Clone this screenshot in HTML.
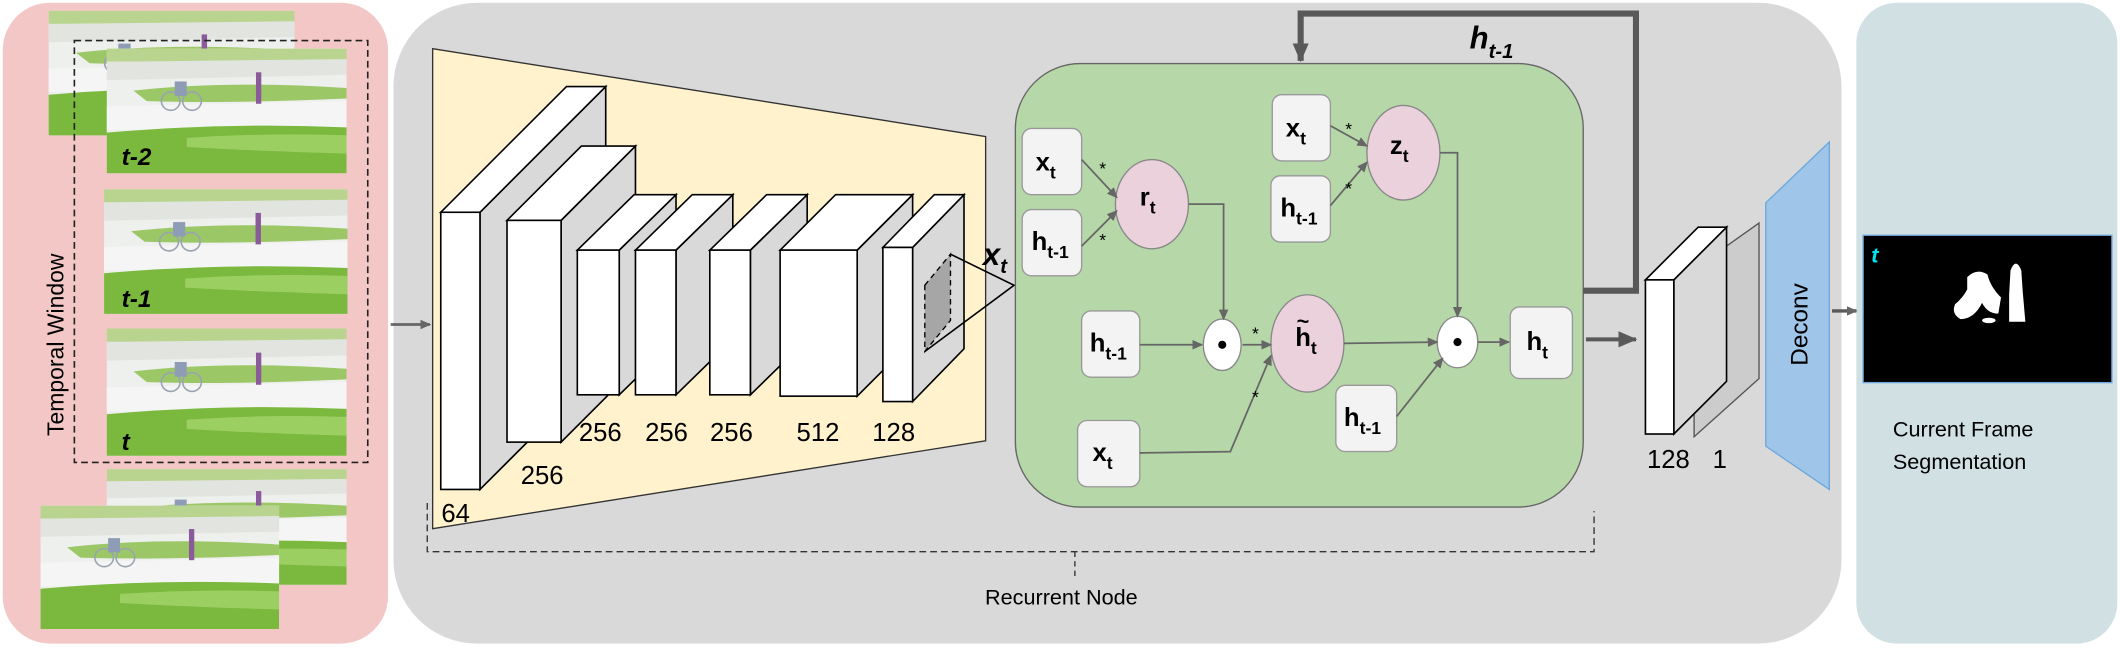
<!DOCTYPE html>
<html><head><meta charset="utf-8"><style>
html,body{margin:0;padding:0;background:#fff;}
svg{display:block;}
text{font-family:"Liberation Sans",sans-serif;}
</style></head><body>
<svg width="2120" height="650" viewBox="0 0 1568 480.75" preserveAspectRatio="none" xmlns="http://www.w3.org/2000/svg">
<defs>
<marker id="a" markerWidth="8" markerHeight="8" refX="7" refY="4" orient="auto" markerUnits="userSpaceOnUse"><path d="M0,0.5 L8,4 L0,7.5z" fill="#666"/></marker>
<marker id="b" markerWidth="14" markerHeight="14" refX="13" refY="7" orient="auto" markerUnits="userSpaceOnUse"><path d="M0,1 L14,7 L0,13z" fill="#595959"/></marker>
<g id="fr">
<rect x="0" y="0" width="180" height="95" fill="#eef0ee"/>
<rect x="0" y="0" width="180" height="10" fill="#b9d48f"/>
<path d="M0,10 L180,8 L180,20 L0,24z" fill="#e2e4df"/>
<path d="M20,32 Q90,24 180,30 L180,38 Q90,42 30,40z" fill="#9cc767"/>
<path d="M0,44 L180,40 L180,60 L0,62z" fill="#f4f5f4"/>
<path d="M0,64 Q90,56 180,60 L180,95 L0,95z" fill="#7ab83e"/>
<path d="M60,68 Q120,64 180,66 L180,80 Q110,78 60,75z" fill="#9ccf62"/>
<rect x="112" y="18" width="4" height="24" fill="#8a5a9a"/>
<circle cx="48" cy="40" r="7" fill="none" stroke="#9aa3b0" stroke-width="1.2"/>
<circle cx="64" cy="40" r="7" fill="none" stroke="#9aa3b0" stroke-width="1.2"/>
<rect x="51" y="25" width="9" height="11" fill="#8f9cb6"/>
</g>
</defs>

<rect x="2" y="2" width="285" height="474" rx="35" fill="#f4c7c7"/>
<rect x="291" y="2" width="1071" height="474" rx="62" fill="#d9d9d9"/>
<rect x="1373" y="2" width="193" height="474" rx="30" fill="#d0e0e3"/>

<use href="#fr" transform="translate(36,8) scale(1.01,0.97)"/>
<use href="#fr" transform="translate(79,36) scale(0.985,0.97)"/>
<text x="90" y="122" font-size="18" font-weight="bold" font-style="italic">t-2</text>
<use href="#fr" transform="translate(77,140) scale(1.0,0.97)"/>
<text x="90" y="227" font-size="18" font-weight="bold" font-style="italic">t-1</text>
<use href="#fr" transform="translate(79,243) scale(0.985,0.99)"/>
<text x="90" y="333" font-size="18" font-weight="bold" font-style="italic">t</text>
<use href="#fr" transform="translate(79,347) scale(0.985,0.9)"/>
<use href="#fr" transform="translate(30,374) scale(0.98,0.96)"/>
<rect x="55" y="30" width="217" height="312" fill="none" stroke="#222" stroke-width="1.2" stroke-dasharray="5,3"/>
<text transform="translate(47,255) rotate(-90)" font-size="17" text-anchor="middle">Temporal Window</text>

<line x1="289" y1="240" x2="318" y2="240" stroke="#666" stroke-width="2" marker-end="url(#a)"/>

<polygon points="320,36 729,101 729,326 320,391" fill="#fff2cc" stroke="#333" stroke-width="1"/>
<g stroke="#000" stroke-width="1.2">
<polygon points="355,157 448,64 448,269 355,362" fill="#d9d9d9"/>
<polygon points="326,157 355,157 448,64 419,64" fill="#fff"/>
<rect x="326" y="157" width="29" height="205" fill="#fff"/>
<polygon points="415,163 470,108 470,272 415,327" fill="#d9d9d9"/>
<polygon points="375,163 415,163 470,108 430,108" fill="#fff"/>
<rect x="375" y="163" width="40" height="164" fill="#fff"/>
<polygon points="458,185 500,144 500,251 458,292" fill="#d9d9d9"/>
<polygon points="427,185 458,185 500,144 469,144" fill="#fff"/>
<rect x="427" y="185" width="31" height="107" fill="#fff"/>
<polygon points="500,185 542,144 542,251 500,292" fill="#d9d9d9"/>
<polygon points="470,185 500,185 542,144 512,144" fill="#fff"/>
<rect x="470" y="185" width="30" height="107" fill="#fff"/>
<polygon points="555,185 597,144 597,251 555,292" fill="#d9d9d9"/>
<polygon points="525,185 555,185 597,144 567,144" fill="#fff"/>
<rect x="525" y="185" width="30" height="107" fill="#fff"/>
<polygon points="634,185 675,144 675,252 634,293" fill="#d9d9d9"/>
<polygon points="577,185 634,185 675,144 618,144" fill="#fff"/>
<rect x="577" y="185" width="57" height="108" fill="#fff"/>
<polygon points="675,183 713,144 713,258 675,297" fill="#d9d9d9"/>
<polygon points="653,183 675,183 713,144 691,144" fill="#fff"/>
<rect x="653" y="183" width="22" height="114" fill="#fff"/>
</g>
<polygon points="684,211 703,188 703,237 684,260" fill="#a6a6a6" stroke="#000" stroke-dasharray="4,3"/>
<polyline points="703,188 750,211 684,260" fill="none" stroke="#000" stroke-width="1.2"/>
<g font-size="19" text-anchor="middle">
<text x="444" y="326">256</text><text x="493" y="326">256</text><text x="541" y="326">256</text>
<text x="605" y="326">512</text><text x="661" y="326">128</text>
<text x="401" y="358">256</text><text x="337" y="386">64</text>
</g>
<text x="727" y="196" font-size="23" font-weight="bold" font-style="italic">x<tspan font-size="15" dy="6">t</tspan></text>

<polyline points="316,372 316,408 1179,408 1179,378" fill="none" stroke="#333" stroke-dasharray="5,3"/>
<line x1="795" y1="408" x2="795" y2="426" stroke="#333" stroke-dasharray="4,3"/>
<text x="785" y="447" font-size="16" text-anchor="middle">Recurrent Node</text>

<rect x="751" y="47" width="420" height="328" rx="48" fill="#b6d7a8" stroke="#666" stroke-width="1"/>
<g fill="#f3f3f3" stroke="#999" stroke-width="1">
<rect x="756" y="95" width="44" height="49" rx="7"/>
<rect x="756" y="155" width="44" height="49" rx="7"/>
<rect x="941" y="70" width="43" height="49" rx="7"/>
<rect x="940" y="130" width="44" height="49" rx="7"/>
<rect x="800" y="230" width="43" height="49" rx="7"/>
<rect x="1117" y="227" width="46" height="53" rx="7"/>
<rect x="988" y="285" width="45" height="49" rx="7"/>
<rect x="797" y="311" width="46" height="49" rx="7"/>
</g>
<g fill="#ead1dc" stroke="#888">
<ellipse cx="852" cy="151" rx="27" ry="33"/>
<ellipse cx="1038" cy="113" rx="27" ry="35"/>
<ellipse cx="967" cy="254" rx="27" ry="36"/>
</g>
<g fill="#fff" stroke="#888">
<ellipse cx="904" cy="255" rx="14" ry="19"/>
<ellipse cx="1078" cy="253" rx="15" ry="19"/>
</g>
<circle cx="904" cy="255" r="3" fill="#000"/><circle cx="1078" cy="253" r="3" fill="#000"/>
<g font-size="19" font-weight="bold">
<text x="766" y="126">x<tspan font-size="13" dy="6">t</tspan></text>
<text x="763" y="185">h<tspan font-size="13" dy="6">t-1</tspan></text>
<text x="951" y="101">x<tspan font-size="13" dy="6">t</tspan></text>
<text x="947" y="160">h<tspan font-size="13" dy="6">t-1</tspan></text>
<text x="806" y="260">h<tspan font-size="13" dy="6">t-1</tspan></text>
<text x="1129" y="259">h<tspan font-size="13" dy="6">t</tspan></text>
<text x="994" y="315">h<tspan font-size="13" dy="6">t-1</tspan></text>
<text x="808" y="341">x<tspan font-size="13" dy="6">t</tspan></text>
<text x="843" y="152">r<tspan font-size="13" dy="6">t</tspan></text>
<text x="1028" y="114">z<tspan font-size="13" dy="6">t</tspan></text>
<text x="958" y="256">h<tspan font-size="13" dy="6">t</tspan></text>
<text x="959" y="243" font-size="16">~</text>
</g>
<g stroke="#666" stroke-width="1.3" fill="none" marker-end="url(#a)">
<line x1="800" y1="118" x2="826" y2="146"/>
<line x1="800" y1="182" x2="826" y2="156"/>
<polyline points="879,151 905,151 905,236"/>
<line x1="843" y1="255" x2="889" y2="255"/>
<line x1="919" y1="255" x2="940" y2="255"/>
<polyline points="843,335 910,334 940,263"/>
<line x1="994" y1="254" x2="1063" y2="253"/>
<polyline points="1033,308 1067,265"/>
<polyline points="1065,113 1078,113 1078,234"/>
<line x1="984" y1="93" x2="1011" y2="108"/>
<line x1="984" y1="152" x2="1011" y2="120"/>
<line x1="1093" y1="253" x2="1116" y2="253"/>
</g>
<g font-size="13">
<text x="813" y="129">*</text><text x="813" y="182">*</text>
<text x="926" y="251">*</text><text x="926" y="298">*</text>
<text x="995" y="100">*</text><text x="995" y="144">*</text>
</g>

<polyline points="1171,215 1210,215 1210,10 962,10 962,45" fill="none" stroke="#595959" stroke-width="4.5" marker-end="url(#b)"/>
<text x="1087" y="36" font-size="23" font-weight="bold" font-style="italic">h<tspan font-size="15" dy="7">t-1</tspan></text>
<line x1="1173" y1="251" x2="1210" y2="251" stroke="#595959" stroke-width="3" marker-end="url(#b)"/>

<polygon points="1253,199 1301,165 1301,280 1253,323" fill="#ccc" stroke="#555" stroke-width="1"/>
<g stroke="#000" stroke-width="1.2">
<polygon points="1238,207 1277,168 1277,282 1238,321" fill="#d9d9d9"/>
<polygon points="1217,207 1238,207 1277,168 1256,168" fill="#fff"/>
<rect x="1217" y="207" width="21" height="114" fill="#fff"/>
</g>
<text x="1234" y="346" font-size="19" text-anchor="middle">128</text>
<text x="1272" y="346" font-size="19" text-anchor="middle">1</text>
<polygon points="1306,150 1353,105 1353,362 1306,330" fill="#9fc5e8" stroke="#6fa8dc"/>
<text transform="translate(1337,240) rotate(-90)" font-size="18" text-anchor="middle">Deconv</text>
<line x1="1355" y1="230" x2="1373" y2="230" stroke="#595959" stroke-width="2.5" marker-end="url(#a)"/>

<rect x="1378" y="174" width="184" height="109" fill="#000" stroke="#6fa8dc"/>
<text x="1384" y="194" font-size="16" font-weight="bold" font-style="italic" fill="#00e5ee">t</text>
<g fill="#fff">
<path d="M1455,205 Q1462,198 1470,203 Q1472,212 1480,220 L1478,232 Q1470,232 1466,224 Q1460,236 1450,236 Q1443,232 1446,225 Q1452,220 1455,214z"/>
<path d="M1487,200 Q1491,190 1495,200 L1496,215 L1498,238 L1486,238 L1486,218z"/>
<ellipse cx="1471" cy="237" rx="5" ry="2"/>
</g>
<text x="1400" y="323" font-size="16">Current Frame</text>
<text x="1400" y="347" font-size="16">Segmentation</text>
</svg>
</body></html>
